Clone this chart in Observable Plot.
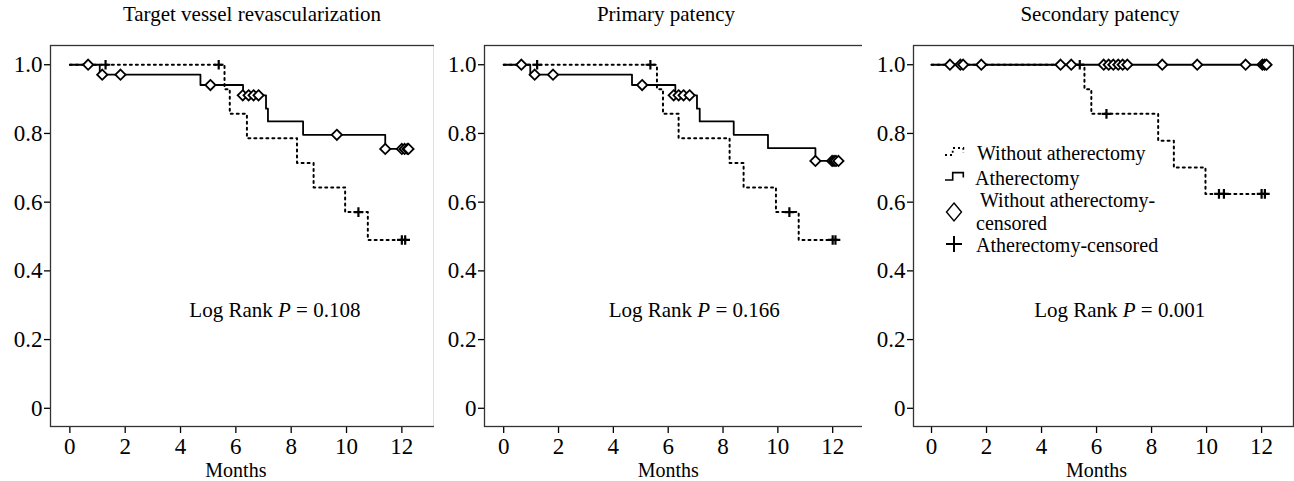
<!DOCTYPE html>
<html><head><meta charset="utf-8">
<script src="https://cdn.jsdelivr.net/npm/d3@7"></script>
<script src="https://cdn.jsdelivr.net/npm/@observablehq/plot@0.6"></script>
<style>
body{margin:0;background:#fff;font-family:"Liberation Serif","Times New Roman",serif;color:#000;}
#root{position:relative;width:1294px;height:481px;overflow:hidden;background:#fff;}
.title{position:absolute;top:0;height:29px;line-height:29px;font-size:21px;white-space:nowrap;transform:translateX(-50%);}
#legend{position:absolute;left:940px;top:140px;}
</style></head>
<body><div id="root"></div>
<script>
// ---- data ----
const monthTicks = [0, 2, 4, 6, 8, 10, 12];
const survTicks = [0, 0.2, 0.4, 0.6, 0.8, 1.0];
const titles = ["Target vessel revascularization", "Primary patency", "Secondary patency"];
const logRankP = ["0.108", "0.166", "0.001"];
const logRankMonth = [7.41, 6.95, 6.84];
const logRankSurv = [0.285, 0.285, 0.285];
const legendLabels = ["Without atherectomy", "Atherectomy", "Without atherectomy-", "censored", "Atherectomy-censored"];

// Target vessel revascularization
const tvrSolidTime = [0, 1.08, 4.72, 6.26, 7.09, 7.16, 8.43, 11.40, 12.28];
const tvrSolidSurv = [1, 0.971, 0.941, 0.911, 0.872, 0.835, 0.796, 0.755, 0.755];
const tvrDiamondTime = [0.66, 1.17, 1.83, 5.08, 6.25, 6.46, 6.64, 6.82, 9.65, 11.40, 12.0, 12.1, 12.2, 12.24];
const tvrDiamondSurv = [1, 0.971, 0.971, 0.941, 0.911, 0.911, 0.911, 0.911, 0.796, 0.755, 0.755, 0.755, 0.755, 0.755];
const tvrDottedTime = [0, 5.59, 5.78, 6.40, 8.21, 8.81, 9.95, 10.77, 12.24];
const tvrDottedSurv = [1, 0.929, 0.857, 0.786, 0.714, 0.643, 0.571, 0.49, 0.49];
const tvrPlusTime = [1.29, 5.38, 10.43, 12.0, 12.12];
const tvrPlusSurv = [1, 1, 0.571, 0.49, 0.49];

// Primary patency
const ppSolidTime = [0, 0.97, 4.68, 6.26, 7.05, 7.15, 8.39, 9.64, 11.37, 12.25];
const ppSolidSurv = [1, 0.971, 0.941, 0.911, 0.872, 0.835, 0.796, 0.757, 0.72, 0.72];
const ppDiamondTime = [0.645, 1.13, 1.80, 5.05, 6.20, 6.38, 6.56, 6.78, 11.37, 11.98, 12.05, 12.12, 12.21];
const ppDiamondSurv = [1, 0.971, 0.971, 0.941, 0.911, 0.911, 0.911, 0.911, 0.72, 0.72, 0.72, 0.72, 0.72];
const ppDottedTime = [0, 5.59, 5.81, 6.38, 8.24, 8.75, 9.93, 10.76, 12.24];
const ppDottedSurv = [1, 0.929, 0.857, 0.786, 0.714, 0.643, 0.571, 0.49, 0.49];
const ppPlusTime = [1.22, 5.35, 10.42, 12.0, 12.1];
const ppPlusSurv = [1, 1, 0.571, 0.49, 0.49];

// Secondary patency
const spSolidTime = [0, 12.25];
const spSolidSurv = [1, 1];
const spDiamondTime = [0.67, 1.05, 1.15, 1.81, 4.69, 5.08, 6.26, 6.44, 6.61, 6.79, 6.95, 7.12, 8.39, 9.66, 11.42, 12.03, 12.11, 12.18];
const spDiamondSurv = [1, 1, 1, 1, 1, 1, 1, 1, 1, 1, 1, 1, 1, 1, 1, 1, 1, 1];
const spDottedTime = [0, 5.56, 5.81, 8.24, 8.81, 9.96, 12.27];
const spDottedSurv = [1, 0.929, 0.857, 0.779, 0.701, 0.624, 0.624];
const spPlusTime = [5.39, 6.36, 10.45, 10.63, 12.0, 12.12];
const spPlusSurv = [1, 0.857, 0.624, 0.624, 0.624, 0.624];

// ---- build ----
const zip = (t, s) => t.map((m, i) => ({month: m, surv: s[i]}));
const panels = [
  {solid: zip(tvrSolidTime, tvrSolidSurv), dia: zip(tvrDiamondTime, tvrDiamondSurv), dotted: zip(tvrDottedTime, tvrDottedSurv), plus: zip(tvrPlusTime, tvrPlusSurv)},
  {solid: zip(ppSolidTime, ppSolidSurv), dia: zip(ppDiamondTime, ppDiamondSurv), dotted: zip(ppDottedTime, ppDottedSurv), plus: zip(ppPlusTime, ppPlusSurv)},
  {solid: zip(spSolidTime, spSolidSurv), dia: zip(spDiamondTime, spDiamondSurv), dotted: zip(spDottedTime, spDottedSurv), plus: zip(spPlusTime, spPlusSurv)}
];
const layout = [
  {left: 0, width: 436, ml: 50, mr: 2, xd: [-0.70, 13.18], tc: 252},
  {left: 434, width: 432, ml: 50, mr: 2, xd: [-0.70, 13.16], tc: 666},
  {left: 862, width: 432, ml: 51, mr: 1, xd: [-0.655, 13.16], tc: 1100}
];
const root = document.getElementById("root");
const serif = "'Liberation Serif', 'Times New Roman', serif";

panels.forEach((p, i) => {
  const L = layout[i];
  const t = document.createElement("div");
  t.className = "title"; t.style.left = L.tc + "px"; t.textContent = titles[i];
  root.appendChild(t);

  const svg = Plot.plot({
    width: L.width, height: 451,
    marginLeft: L.ml, marginRight: L.mr, marginTop: 15, marginBottom: 55,
    x: {domain: L.xd},
    y: {domain: [-0.053, 1.056]},
    style: {fontFamily: serif, fontSize: "21px", color: "black", background: "white", overflow: "visible"},
    marks: [
      Plot.axisY({ticks: survTicks, tickSize: 6, tickPadding: 2, tickFormat: d => d === 0 ? "0" : d.toFixed(1), label: null, strokeWidth: 1.3, fontSize: 23}),
      Plot.axisX({ticks: monthTicks, tickSize: 7, tickPadding: 4, tickFormat: d => String(d), label: null, strokeWidth: 1.3, fontSize: 23}),
      Plot.text([{m: 6, label: "Months"}], {x: "m", text: "label", frameAnchor: "bottom", dy: 44, lineAnchor: "middle", fontSize: 20}),
      Plot.line(p.dotted, {x: "month", y: "surv", curve: "step-after", stroke: "black", strokeWidth: 2, strokeDasharray: "2,4"}),
      Plot.line(p.solid, {x: "month", y: "surv", curve: "step-after", stroke: "black", strokeWidth: 1.8}),
      Plot.dot(p.dia, {x: "month", y: "surv", symbol: "diamond2", r: 4.6, stroke: "black", fill: "white", strokeWidth: 1.8}),
      Plot.dot(p.plus, {x: "month", y: "surv", symbol: "plus", r: 3.2, stroke: "black", strokeWidth: 2.2}),
      Plot.text([{m: logRankMonth[i], s: logRankSurv[i], label: "Log Rank P = " + logRankP[i]}], {x: "m", y: "s", text: "label", fontSize: 21, textAnchor: "middle"}),
      Plot.frame({stroke: "#333", strokeWidth: 1.3})
    ]
  });
  d3.select(svg).selectAll("text").filter(function () { return this.textContent.startsWith("Log Rank P"); }).each(function () {
    const rest = this.textContent.slice("Log Rank P".length);
    const sel = d3.select(this); sel.text(null);
    sel.append("tspan").text("Log Rank ");
    sel.append("tspan").attr("font-style", "italic").text("P");
    sel.append("tspan").text(rest);
  });
  svg.style.position = "absolute";
  svg.style.left = L.left + "px";
  svg.style.top = "30px";
  root.appendChild(svg);
});

// legend (inside third panel)
const lg = d3.select(root).append("svg").attr("id", "legend").attr("width", 250).attr("height", 125)
  .style("font-family", serif).style("font-size", "20px");
lg.append("path").attr("d", "M5,15L12.7,15L12.7,8L23.3,8L23.3,13").attr("fill", "none").attr("stroke", "black").attr("stroke-width", 1.8).attr("stroke-dasharray", "2,3");
lg.append("path").attr("d", "M5,40L12.7,40L12.7,32.6L23.3,32.6L23.3,37.6").attr("fill", "none").attr("stroke", "black").attr("stroke-width", 1.6);
lg.append("path").attr("d", "M14,63L21.5,72L14,81L6.5,72Z").attr("fill", "white").attr("stroke", "black").attr("stroke-width", 1.4);
lg.append("path").attr("d", "M6,104L22,104M14,96L14,112").attr("stroke", "black").attr("stroke-width", 2);
const rows = [[37, 20], [35, 45], [40, 67.3], [36, 89.6], [36, 112]];
legendLabels.forEach((s, i) => lg.append("text").attr("x", rows[i][0]).attr("y", rows[i][1]).text(s));
</script></body></html>
